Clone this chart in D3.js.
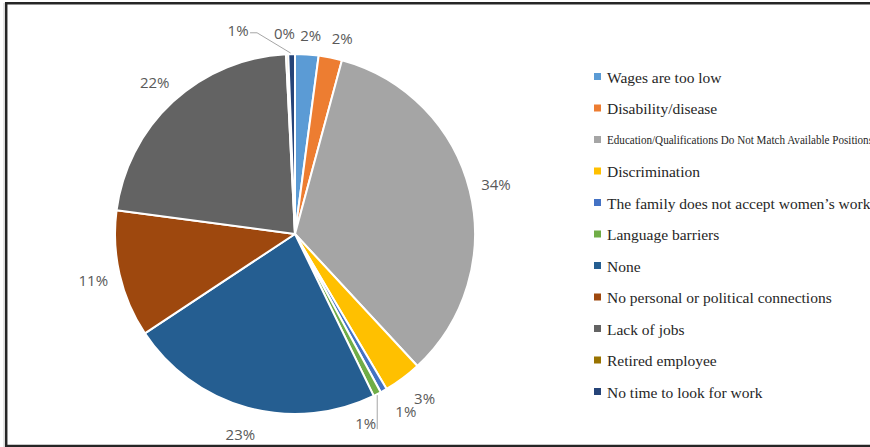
<!DOCTYPE html>
<html>
<head>
<meta charset="utf-8">
<script src="https://cdn.jsdelivr.net/npm/d3@7"></script>
<style>
  html, body { margin: 0; padding: 0; background: #fff; }
  svg { display: block; }
  .legend-text { font-family: "Liberation Serif", "DejaVu Serif", serif; }
  .pct { font-family: "Open Sans", "Noto Sans", sans-serif; }
</style>
</head>
<body>
<svg id="chart" width="870" height="447"></svg>
<script>
// Reasons for not working — share of respondents (%)
const categories = [
  "Wages are too low",
  "Disability/disease",
  "Education/Qualifications Do Not Match Available Positions",
  "Discrimination",
  "The family does not accept women\u2019s work",
  "Language barriers",
  "None",
  "No personal or political connections",
  "Lack of jobs",
  "Retired employee",
  "No time to look for work"
];
const values = [2.1, 2.1, 33.9, 3.4, 0.6, 0.7, 22.9, 11.4, 22.1, 0.2, 0.6];
const colors = [
  "#5B9BD5", "#ED7D31", "#A5A5A5", "#FFC000", "#4472C4", "#70AD47",
  "#255E91", "#9E480E", "#636363", "#997300", "#264478"
];

const svg = d3.select("#chart");
const W = 870, H = 447;

// frame
svg.append("line").attr("x1", 4).attr("x2", 4).attr("y1", 3).attr("y2", 447)
  .attr("stroke", "#cfcfcf").attr("stroke-width", 1);
svg.append("line").attr("x1", 5).attr("x2", W).attr("y1", 3.2).attr("y2", 3.2)
  .attr("stroke", "#262626").attr("stroke-width", 2.5);
svg.append("line").attr("x1", 6.2).attr("x2", 6.2).attr("y1", 2).attr("y2", 447)
  .attr("stroke", "#262626").attr("stroke-width", 2.5);
svg.append("line").attr("x1", 5).attr("x2", W).attr("y1", 446).attr("y2", 446)
  .attr("stroke", "#262626").attr("stroke-width", 2.5);

// pie
const cx = 295, cy = 234, r = 180;
const total = d3.sum(values);
const pie = d3.pie().sort(null).value(d => d)(values);
const arc = d3.arc().innerRadius(0).outerRadius(r);
const g = svg.append("g").attr("transform", `translate(${cx},${cy})`);

g.selectAll("path.slice").data(pie).join("path")
  .attr("class", "slice")
  .attr("d", arc)
  .attr("fill", (d, i) => colors[i])
  .attr("stroke", "#fff")
  .attr("stroke-width", 2)
  .attr("stroke-linejoin", "round");

// data labels outside the pie
const pct = v => d3.format(".0f")(v / total * 100) + "%";
const labelR = r + 27;
// angular nudges (degrees) and radius tweaks for crowded labels
const nudge = {
  0: { da: 0.7, dr: -7 }, 1: { da: 2.2, dr: -5 }, 3: { da: -1.6, dr: 2 },
  4: { da: -2.5, dr: 2 }, 5: { da: 6.7, dr: -5 }, 9: { da: -0.5, dr: -6 },
  10: { da: -14.5, dr: 5 }
};
const labels = pie.map((d, i) => {
  const n = nudge[i] || { da: 0, dr: 0 };
  const mid = (d.startAngle + d.endAngle) / 2;
  const a = mid + n.da * Math.PI / 180;
  const rr = labelR + n.dr;
  return { i, a, mid, x: rr * Math.sin(a), y: -rr * Math.cos(a), text: pct(values[i]) };
});

g.selectAll("text.pct").data(labels).join("text")
  .attr("class", "pct")
  .attr("x", d => d.x).attr("y", d => d.y)
  .attr("text-anchor", "middle")
  .attr("dominant-baseline", "central")
  .attr("font-size", 15)
  .attr("fill", "#595959")
  .text(d => d.text);

// leader lines for the two displaced labels
const leader = d3.line();
const lNoTime = labels[10];
const eNoTime = [r * Math.sin(lNoTime.mid) - 1, -r * Math.cos(lNoTime.mid) - 1];
g.append("path")
  .attr("d", leader([[lNoTime.x + 12, lNoTime.y + 3], [lNoTime.x + 19, lNoTime.y + 3], eNoTime]))
  .attr("fill", "none").attr("stroke", "#a6a6a6").attr("stroke-width", 1);
const lLang = labels[5];
const eLang = [r * Math.sin(lLang.mid), -r * Math.cos(lLang.mid) + 1];
g.append("path")
  .attr("d", leader([[eLang[0], eLang[1]], [eLang[0], lLang.y + 6]]))
  .attr("fill", "none").attr("stroke", "#a6a6a6").attr("stroke-width", 1);

// legend
const legend = svg.append("g").attr("transform", "translate(594,77)");
const rowH = 31.5;
const items = legend.selectAll("g").data(categories).join("g")
  .attr("transform", (d, i) => `translate(0,${i * rowH})`);
items.append("rect").attr("x", 0).attr("y", -4).attr("width", 7).attr("height", 7)
  .attr("fill", (d, i) => colors[i]);
items.append("text")
  .attr("class", "legend-text")
  .attr("x", 13).attr("y", 0)
  .attr("dominant-baseline", "central")
  .attr("font-size", (d, i) => i === 2 ? 12.5 : 15.5)
  .attr("fill", "#262626")
  .each(function (d, i) {
    if (i === 2) d3.select(this).attr("textLength", 266).attr("lengthAdjust", "spacingAndGlyphs");
  })
  .text(d => d);
</script>
</body>
</html>
